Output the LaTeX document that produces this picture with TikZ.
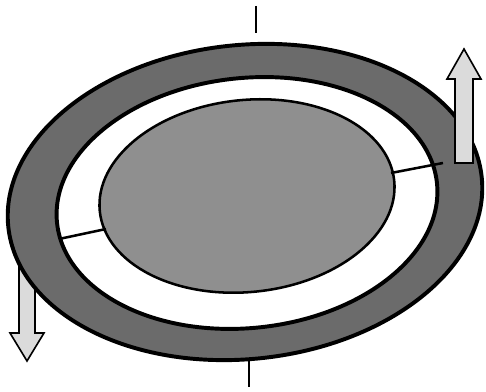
\documentclass[tikz,border=0pt]{standalone}
\usepackage{tikz}
\definecolor{ringgray}{gray}{0.42}
\definecolor{coregray}{gray}{0.56}
\definecolor{arrowgray}{gray}{0.86}

\begin{document}
\begin{tikzpicture}[x=0.5mm, y=0.5mm,
        ringline/.style={line width=5.6pt},
        thinline/.style={line width=3.6pt},
        bigarrow/.style={line width=2.3pt, fill=arrowgray, line join=miter}]
            \useasboundingbox (0,0) rectangle (486,392);
            
            % Left arrow (goes behind the ring)
            \draw[bigarrow] (19,142) -- (19,59) -- (10,59) -- (27,31) -- (44,59) -- (35,59) -- (35,142) -- cycle;
            
            % Ring
            \draw[ringline, fill=ringgray, rotate around={6:(245,190)}] (245,190) ellipse (238 and 157);
            \draw[ringline, fill=white, rotate around={6:(247,189)}] (247,189) ellipse (191 and 125);
            
            % Core
            \draw[thinline, fill=coregray, rotate around={6:(247,196)}] (247,196) ellipse (148 and 96);
            
            % Spokes
            \coordinate (spokeLa) at (59,153);
            \coordinate (spokeLb) at (106,163);
            \coordinate (spokeRa) at (391,219);
            \coordinate (spokeRb) at (443,229);
            \draw[thinline] (spokeLa) -- (spokeLb);
            \draw[thinline] (spokeRa) -- (spokeRb);
            
            % Right arrow (on top of the ring)
            \draw[bigarrow] (455,229) -- (455,313) -- (447,313) -- (464,343) -- (481,313) -- (473,313) -- (473,229) -- cycle;
            
            % Axis ticks
            \draw[line width=4pt] (256,386) -- (256,359);
            \draw[line width=4pt] (249,32) -- (249,5);
        \end{tikzpicture}
\end{document}
